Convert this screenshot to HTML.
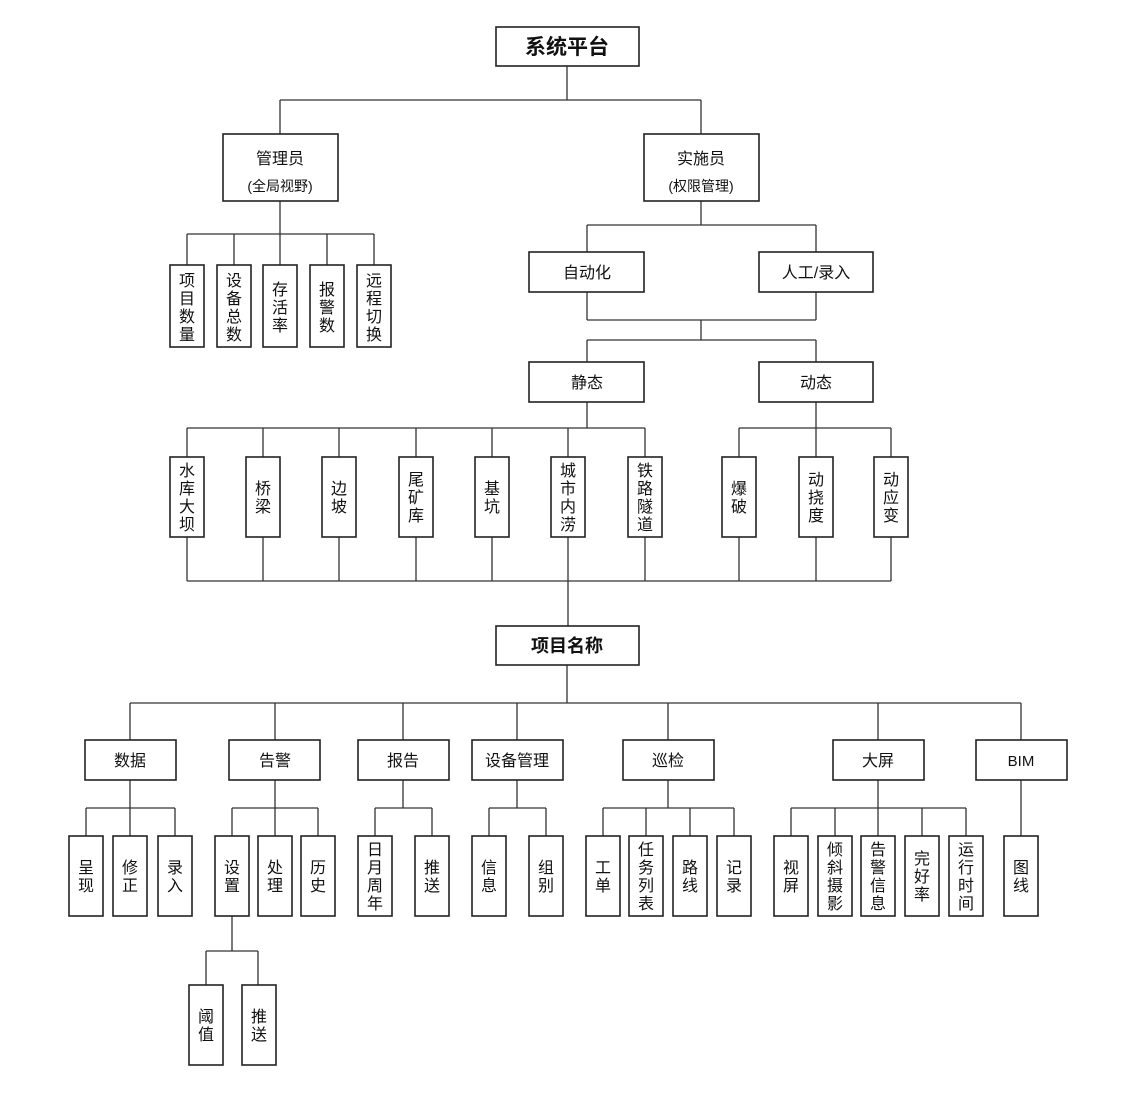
<!DOCTYPE html>
<html><head><meta charset="utf-8"><style>
html,body{margin:0;padding:0;background:#fff;}
svg{display:block;}
text{font-family:"Liberation Sans","Noto Sans CJK SC",sans-serif;fill:#111;}
</style></head><body>
<svg width="1123" height="1101" viewBox="0 0 1123 1101" xmlns="http://www.w3.org/2000/svg">
<g stroke="#333" stroke-width="1.3" fill="none">
<!-- top -->
<path d="M567 66V100M280 100H701M280 100V134M701 100V134"/>
<path d="M280 201V234M187 234H374M187 234V265M234 234V265M280 234V265M327 234V265M374 234V265"/>
<path d="M701 201V225M587 225H816M587 225V252M816 225V252"/>
<path d="M587 292V320M816 292V320M587 320H816M701 320V340M587 340H816M587 340V362M816 340V362"/>
<path d="M587 402V428M187 428H645M187 428V457M263 428V457M339 428V457M416 428V457M492 428V457M568 428V457M645 428V457"/>
<path d="M816 402V428M739 428H891M739 428V457M816 428V457M891 428V457"/>
<path d="M187 537V581M263 537V581M339 537V581M416 537V581M492 537V581M568 537V581M645 537V581M739 537V581M816 537V581M891 537V581M187 581H891M568 581V626"/>
<path d="M567 665V703M130 703H1021M130 703V740M275 703V740M403 703V740M517 703V740M668 703V740M878 703V740M1021 703V740"/>
<path d="M130 780V808M86 808H175M86 808V836M130 808V836M175 808V836"/>
<path d="M275 780V808M232 808H318M232 808V836M275 808V836M318 808V836"/>
<path d="M403 780V808M375 808H432M375 808V836M432 808V836"/>
<path d="M517 780V808M489 808H546M489 808V836M546 808V836"/>
<path d="M668 780V808M603 808H734M603 808V836M646 808V836M690 808V836M734 808V836"/>
<path d="M878 780V808M791 808H966M791 808V836M835 808V836M878 808V836M922 808V836M966 808V836"/>
<path d="M1021 780V836"/>
<path d="M232 916V951M206 951H258M206 951V985M258 951V985"/>
</g>
<g stroke="#222" stroke-width="1.6" fill="#fff">
<rect x="496" y="27" width="143" height="39"/>
<rect x="223" y="134" width="115" height="67"/>
<rect x="644" y="134" width="115" height="67"/>
<rect x="170" y="265" width="34" height="82"/><rect x="217" y="265" width="34" height="82"/><rect x="263" y="265" width="34" height="82"/><rect x="310" y="265" width="34" height="82"/><rect x="357" y="265" width="34" height="82"/>
<rect x="529" y="252" width="115" height="40"/><rect x="759" y="252" width="114" height="40"/>
<rect x="529" y="362" width="115" height="40"/><rect x="759" y="362" width="114" height="40"/>
<rect x="170" y="457" width="34" height="80"/><rect x="246" y="457" width="34" height="80"/><rect x="322" y="457" width="34" height="80"/><rect x="399" y="457" width="34" height="80"/><rect x="475" y="457" width="34" height="80"/><rect x="551" y="457" width="34" height="80"/><rect x="628" y="457" width="34" height="80"/>
<rect x="722" y="457" width="34" height="80"/><rect x="799" y="457" width="34" height="80"/><rect x="874" y="457" width="34" height="80"/>
<rect x="496" y="626" width="143" height="39"/>
<rect x="85" y="740" width="91" height="40"/><rect x="229" y="740" width="91" height="40"/><rect x="358" y="740" width="91" height="40"/><rect x="472" y="740" width="91" height="40"/><rect x="623" y="740" width="91" height="40"/><rect x="833" y="740" width="91" height="40"/><rect x="976" y="740" width="91" height="40"/>
<rect x="69" y="836" width="34" height="80"/><rect x="113" y="836" width="34" height="80"/><rect x="158" y="836" width="34" height="80"/>
<rect x="215" y="836" width="34" height="80"/><rect x="258" y="836" width="34" height="80"/><rect x="301" y="836" width="34" height="80"/>
<rect x="358" y="836" width="34" height="80"/><rect x="415" y="836" width="34" height="80"/>
<rect x="472" y="836" width="34" height="80"/><rect x="529" y="836" width="34" height="80"/>
<rect x="586" y="836" width="34" height="80"/><rect x="629" y="836" width="34" height="80"/><rect x="673" y="836" width="34" height="80"/><rect x="717" y="836" width="34" height="80"/>
<rect x="774" y="836" width="34" height="80"/><rect x="818" y="836" width="34" height="80"/><rect x="861" y="836" width="34" height="80"/><rect x="905" y="836" width="34" height="80"/><rect x="949" y="836" width="34" height="80"/>
<rect x="1004" y="836" width="34" height="80"/>
<rect x="189" y="985" width="34" height="80"/><rect x="242" y="985" width="34" height="80"/>
</g>
<g text-anchor="middle" font-size="16">
<text x="567" y="54" font-size="21" font-weight="bold">系统平台</text>
<text x="280" y="164">管理员</text><text x="280" y="191" font-size="14">(全局视野)</text>
<text x="701" y="164">实施员</text><text x="701" y="191" font-size="14">(权限管理)</text>
<text x="587" y="278">自动化</text><text x="816" y="278">人工/录入</text>
<text x="587" y="388">静态</text><text x="816" y="388">动态</text>
<text x="567" y="652" font-size="18" font-weight="bold">项目名称</text>
<text x="130" y="766">数据</text><text x="275" y="766">告警</text><text x="403" y="766">报告</text><text x="517" y="766">设备管理</text><text x="668" y="766">巡检</text><text x="878" y="766">大屏</text><text x="1021" y="766" font-size="15">BIM</text>

<!-- admin children -->
<text x="187" y="286"><tspan x="187">项</tspan><tspan x="187" dy="18">目</tspan><tspan x="187" dy="18">数</tspan><tspan x="187" dy="18">量</tspan></text>
<text x="234" y="286"><tspan x="234">设</tspan><tspan x="234" dy="18">备</tspan><tspan x="234" dy="18">总</tspan><tspan x="234" dy="18">数</tspan></text>
<text x="280" y="295"><tspan x="280">存</tspan><tspan x="280" dy="18">活</tspan><tspan x="280" dy="18">率</tspan></text>
<text x="327" y="295"><tspan x="327">报</tspan><tspan x="327" dy="18">警</tspan><tspan x="327" dy="18">数</tspan></text>
<text x="374" y="286"><tspan x="374">远</tspan><tspan x="374" dy="18">程</tspan><tspan x="374" dy="18">切</tspan><tspan x="374" dy="18">换</tspan></text>

<!-- static -->
<text x="187" y="476"><tspan x="187">水</tspan><tspan x="187" dy="18">库</tspan><tspan x="187" dy="18">大</tspan><tspan x="187" dy="18">坝</tspan></text>
<text x="263" y="494"><tspan x="263">桥</tspan><tspan x="263" dy="18">梁</tspan></text>
<text x="339" y="494"><tspan x="339">边</tspan><tspan x="339" dy="18">坡</tspan></text>
<text x="416" y="485"><tspan x="416">尾</tspan><tspan x="416" dy="18">矿</tspan><tspan x="416" dy="18">库</tspan></text>
<text x="492" y="494"><tspan x="492">基</tspan><tspan x="492" dy="18">坑</tspan></text>
<text x="568" y="476"><tspan x="568">城</tspan><tspan x="568" dy="18">市</tspan><tspan x="568" dy="18">内</tspan><tspan x="568" dy="18">涝</tspan></text>
<text x="645" y="476"><tspan x="645">铁</tspan><tspan x="645" dy="18">路</tspan><tspan x="645" dy="18">隧</tspan><tspan x="645" dy="18">道</tspan></text>
<text x="739" y="494"><tspan x="739">爆</tspan><tspan x="739" dy="18">破</tspan></text>
<text x="816" y="485"><tspan x="816">动</tspan><tspan x="816" dy="18">挠</tspan><tspan x="816" dy="18">度</tspan></text>
<text x="891" y="485"><tspan x="891">动</tspan><tspan x="891" dy="18">应</tspan><tspan x="891" dy="18">变</tspan></text>

<!-- bottom children -->
<text y="873"><tspan x="86">呈</tspan><tspan x="86" dy="18">现</tspan></text>
<text y="873"><tspan x="130">修</tspan><tspan x="130" dy="18">正</tspan></text>
<text y="873"><tspan x="175">录</tspan><tspan x="175" dy="18">入</tspan></text>
<text y="873"><tspan x="232">设</tspan><tspan x="232" dy="18">置</tspan></text>
<text y="873"><tspan x="275">处</tspan><tspan x="275" dy="18">理</tspan></text>
<text y="873"><tspan x="318">历</tspan><tspan x="318" dy="18">史</tspan></text>
<text y="855"><tspan x="375">日</tspan><tspan x="375" dy="18">月</tspan><tspan x="375" dy="18">周</tspan><tspan x="375" dy="18">年</tspan></text>
<text y="873"><tspan x="432">推</tspan><tspan x="432" dy="18">送</tspan></text>
<text y="873"><tspan x="489">信</tspan><tspan x="489" dy="18">息</tspan></text>
<text y="873"><tspan x="546">组</tspan><tspan x="546" dy="18">别</tspan></text>
<text y="873"><tspan x="603">工</tspan><tspan x="603" dy="18">单</tspan></text>
<text y="855"><tspan x="646">任</tspan><tspan x="646" dy="18">务</tspan><tspan x="646" dy="18">列</tspan><tspan x="646" dy="18">表</tspan></text>
<text y="873"><tspan x="690">路</tspan><tspan x="690" dy="18">线</tspan></text>
<text y="873"><tspan x="734">记</tspan><tspan x="734" dy="18">录</tspan></text>
<text y="873"><tspan x="791">视</tspan><tspan x="791" dy="18">屏</tspan></text>
<text y="855"><tspan x="835">倾</tspan><tspan x="835" dy="18">斜</tspan><tspan x="835" dy="18">摄</tspan><tspan x="835" dy="18">影</tspan></text>
<text y="855"><tspan x="878">告</tspan><tspan x="878" dy="18">警</tspan><tspan x="878" dy="18">信</tspan><tspan x="878" dy="18">息</tspan></text>
<text y="864"><tspan x="922">完</tspan><tspan x="922" dy="18">好</tspan><tspan x="922" dy="18">率</tspan></text>
<text y="855"><tspan x="966">运</tspan><tspan x="966" dy="18">行</tspan><tspan x="966" dy="18">时</tspan><tspan x="966" dy="18">间</tspan></text>
<text y="873"><tspan x="1021">图</tspan><tspan x="1021" dy="18">线</tspan></text>
<text y="1022"><tspan x="206">阈</tspan><tspan x="206" dy="18">值</tspan></text>
<text y="1022"><tspan x="259">推</tspan><tspan x="259" dy="18">送</tspan></text>
</g>
</svg>
</body></html>
